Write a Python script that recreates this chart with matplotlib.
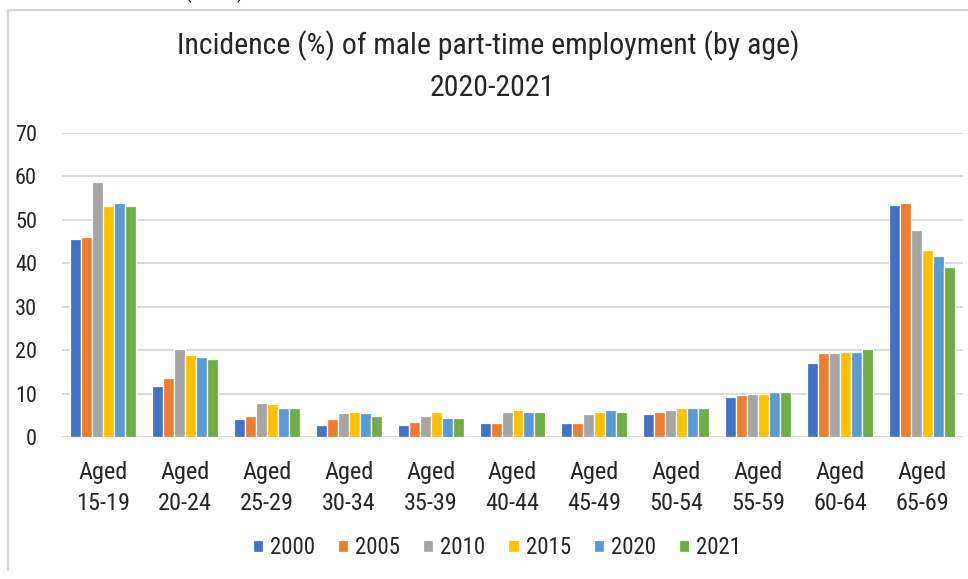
import matplotlib
matplotlib.use("Agg")
import matplotlib.pyplot as plt
from matplotlib import font_manager
from matplotlib.lines import Line2D
import numpy as np

# --- data -------------------------------------------------------------
age_groups = ["Aged\n15-19", "Aged\n20-24", "Aged\n25-29", "Aged\n30-34",
              "Aged\n35-39", "Aged\n40-44", "Aged\n45-49", "Aged\n50-54",
              "Aged\n55-59", "Aged\n60-64", "Aged\n65-69"]
years = ["2000", "2005", "2010", "2015", "2020", "2021"]

v2000 = [45.6, 11.9, 4.1, 2.8, 2.8, 3.2, 3.2, 5.4, 9.2, 17.1, 53.5]
v2005 = [46.1, 13.6, 4.9, 4.1, 3.6, 3.2, 3.2, 5.9, 9.7, 19.4, 54.0]
v2010 = [58.8, 20.2, 8.0, 5.5, 4.9, 5.9, 5.4, 6.3, 10.0, 19.4, 47.8]
v2015 = [53.1, 18.9, 7.6, 5.9, 5.9, 6.3, 5.9, 6.7, 10.0, 19.7, 43.0]
v2020 = [54.0, 18.4, 6.7, 5.5, 4.5, 5.9, 6.3, 6.7, 10.5, 19.7, 41.7]
v2021 = [53.1, 18.0, 6.7, 4.9, 4.5, 5.9, 5.9, 6.7, 10.5, 20.2, 39.1]
series = [v2000, v2005, v2010, v2015, v2020, v2021]

yticks = [0, 10, 20, 30, 40, 50, 60, 70]

colors = ["#4472C4", "#ED7D31", "#A5A5A5", "#FFC000", "#5B9BD5", "#70AD47"]

# --- font -------------------------------------------------------------
installed = {f.name for f in font_manager.fontManager.ttflist}
family = "DejaVu Sans"
for cand in ["Roboto Condensed", "Liberation Sans Narrow", "Open Sans Condensed",
             "Lato", "Roboto"]:
    if cand in installed:
        family = cand
        break
plt.rcParams["font.family"] = [family, "DejaVu Sans"]
text_color = "#262626"

# --- figure -----------------------------------------------------------
W, H = 968, 579
fig = plt.figure(figsize=(W / 100, H / 100), dpi=100)

# outer chart frame (top and left edges)
frame_color = "#d6d6d6"
fig.add_artist(Line2D([8 / W, 1.0], [1 - 10 / H, 1 - 10 / H],
                      transform=fig.transFigure, color=frame_color, lw=1.6))
fig.add_artist(Line2D([8 / W, 8 / W], [1 - 10 / H, 1 - 570 / H],
                      transform=fig.transFigure, color=frame_color, lw=1.6))

# caption of the preceding block, cut by the top edge
fig.text(215 / W, 1 + 8 / H, "(OECD)", ha="center", va="center",
         fontsize=15, color=text_color)

left, right = 62 / W, 963 / W
bottom, top = 1 - 437.3 / H, 1 - 133 / H
ax = fig.add_axes([left, bottom, right - left, top - bottom])

n = len(years)
x = np.arange(len(age_groups))
step = 0.134
for i, (yr, vals, c) in enumerate(zip(years, series, colors)):
    offs = (i - (n - 1) / 2) * step
    ax.bar(x + offs, vals, width=step, color=c, edgecolor="white",
           linewidth=0.9, label=yr, zorder=3)

ax.set_xlim(-0.5, len(age_groups) - 0.5)
ax.set_ylim(0, 70)
ax.set_yticks(yticks)
ax.set_yticklabels([str(t) for t in yticks])
ax.set_xticks(x)
ax.set_xticklabels(age_groups, linespacing=1.45)
ax.grid(axis="y", color="#d9d9d9", lw=1.3, zorder=0)
ax.set_axisbelow(True)
for s in ax.spines.values():
    s.set_visible(False)
ax.tick_params(axis="both", length=0, colors=text_color)
ax.tick_params(axis="y", pad=18, labelsize=16)
ax.tick_params(axis="x", pad=17, labelsize=17.5)

fig.text(488 / W, 1 - 46 / H, "Incidence (%) of male part-time employment (by age)",
         ha="center", va="center", fontsize=21.5, color=text_color)
fig.text(492 / W, 1 - 88 / H, "2020-2021", ha="center", va="center",
         fontsize=21.5, color=text_color)

leg = fig.legend(loc="center", bbox_to_anchor=(497 / W, 1 - 548 / H), ncol=6,
                 frameon=False, fontsize=16.5, handlelength=0.45, handleheight=0.45,
                 handletextpad=0.3, columnspacing=1.0)
for t in leg.get_texts():
    t.set_color(text_color)

fig.savefig("out.png", dpi=100)
